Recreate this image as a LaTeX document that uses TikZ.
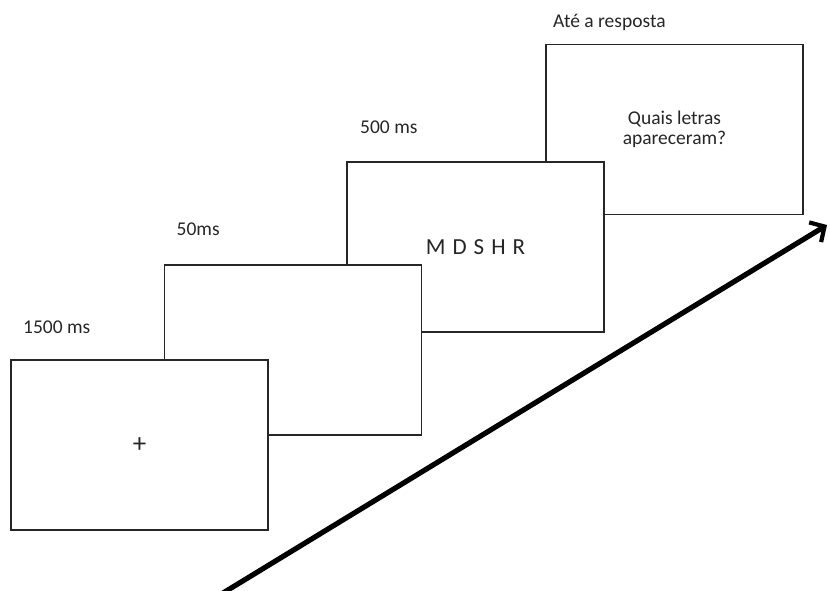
\documentclass[tikz,border=0pt]{standalone}
\usepackage{fontspec}
\setmainfont{Carlito}
\usetikzlibrary{arrows.meta}
\begin{document}
\begin{tikzpicture}[x=1pt,y=-1pt,
  screen/.style={draw=black!85,line width=1.1pt,fill=white,minimum width=257pt,
    minimum height=170pt,inner sep=0pt,text=black!85,align=center,
    font=\fontsize{19.5}{20}\selectfont},
  timing/.style={anchor=base west,inner sep=0pt,text=black!85,
    font=\fontsize{19.5}{20}\selectfont},
  timeline/.style={line width=5.2pt,-{Straight Barb[length=11pt,width=23pt,line width=4.2pt]}}]
  \useasboundingbox (0,0) rectangle (830,590);
  % screens, drawn back to front so each covers the one behind it
  \node[screen] (s4) at (674.5,129.5) {Quais letras\\apareceram?};
  \node[screen,font=\fontsize{23}{24}\selectfont] (s3) at (475.5,247)
    {M\hspace{7pt}D\hspace{7pt}S\hspace{7pt}H\hspace{7pt}R};
  \node[screen] (s2) at (293,350) {};
  \node[screen,font=\fontsize{27}{28}\selectfont] (s1) at (139.5,445) {+};
  % durations
  \node[timing] (t1) at (23,333) {1500 ms};
  \node[timing] (t2) at (176.5,235.5) {50ms};
  \node[timing] (t3) at (360,133) {500 ms};
  \node[timing] (t4) at (553,27) {Até a resposta};
  % time axis
  \coordinate (a0) at (223,593);
  \coordinate (a1) at (827,225);
  \draw[timeline] (a0) -- (a1);
\end{tikzpicture}
\end{document}
